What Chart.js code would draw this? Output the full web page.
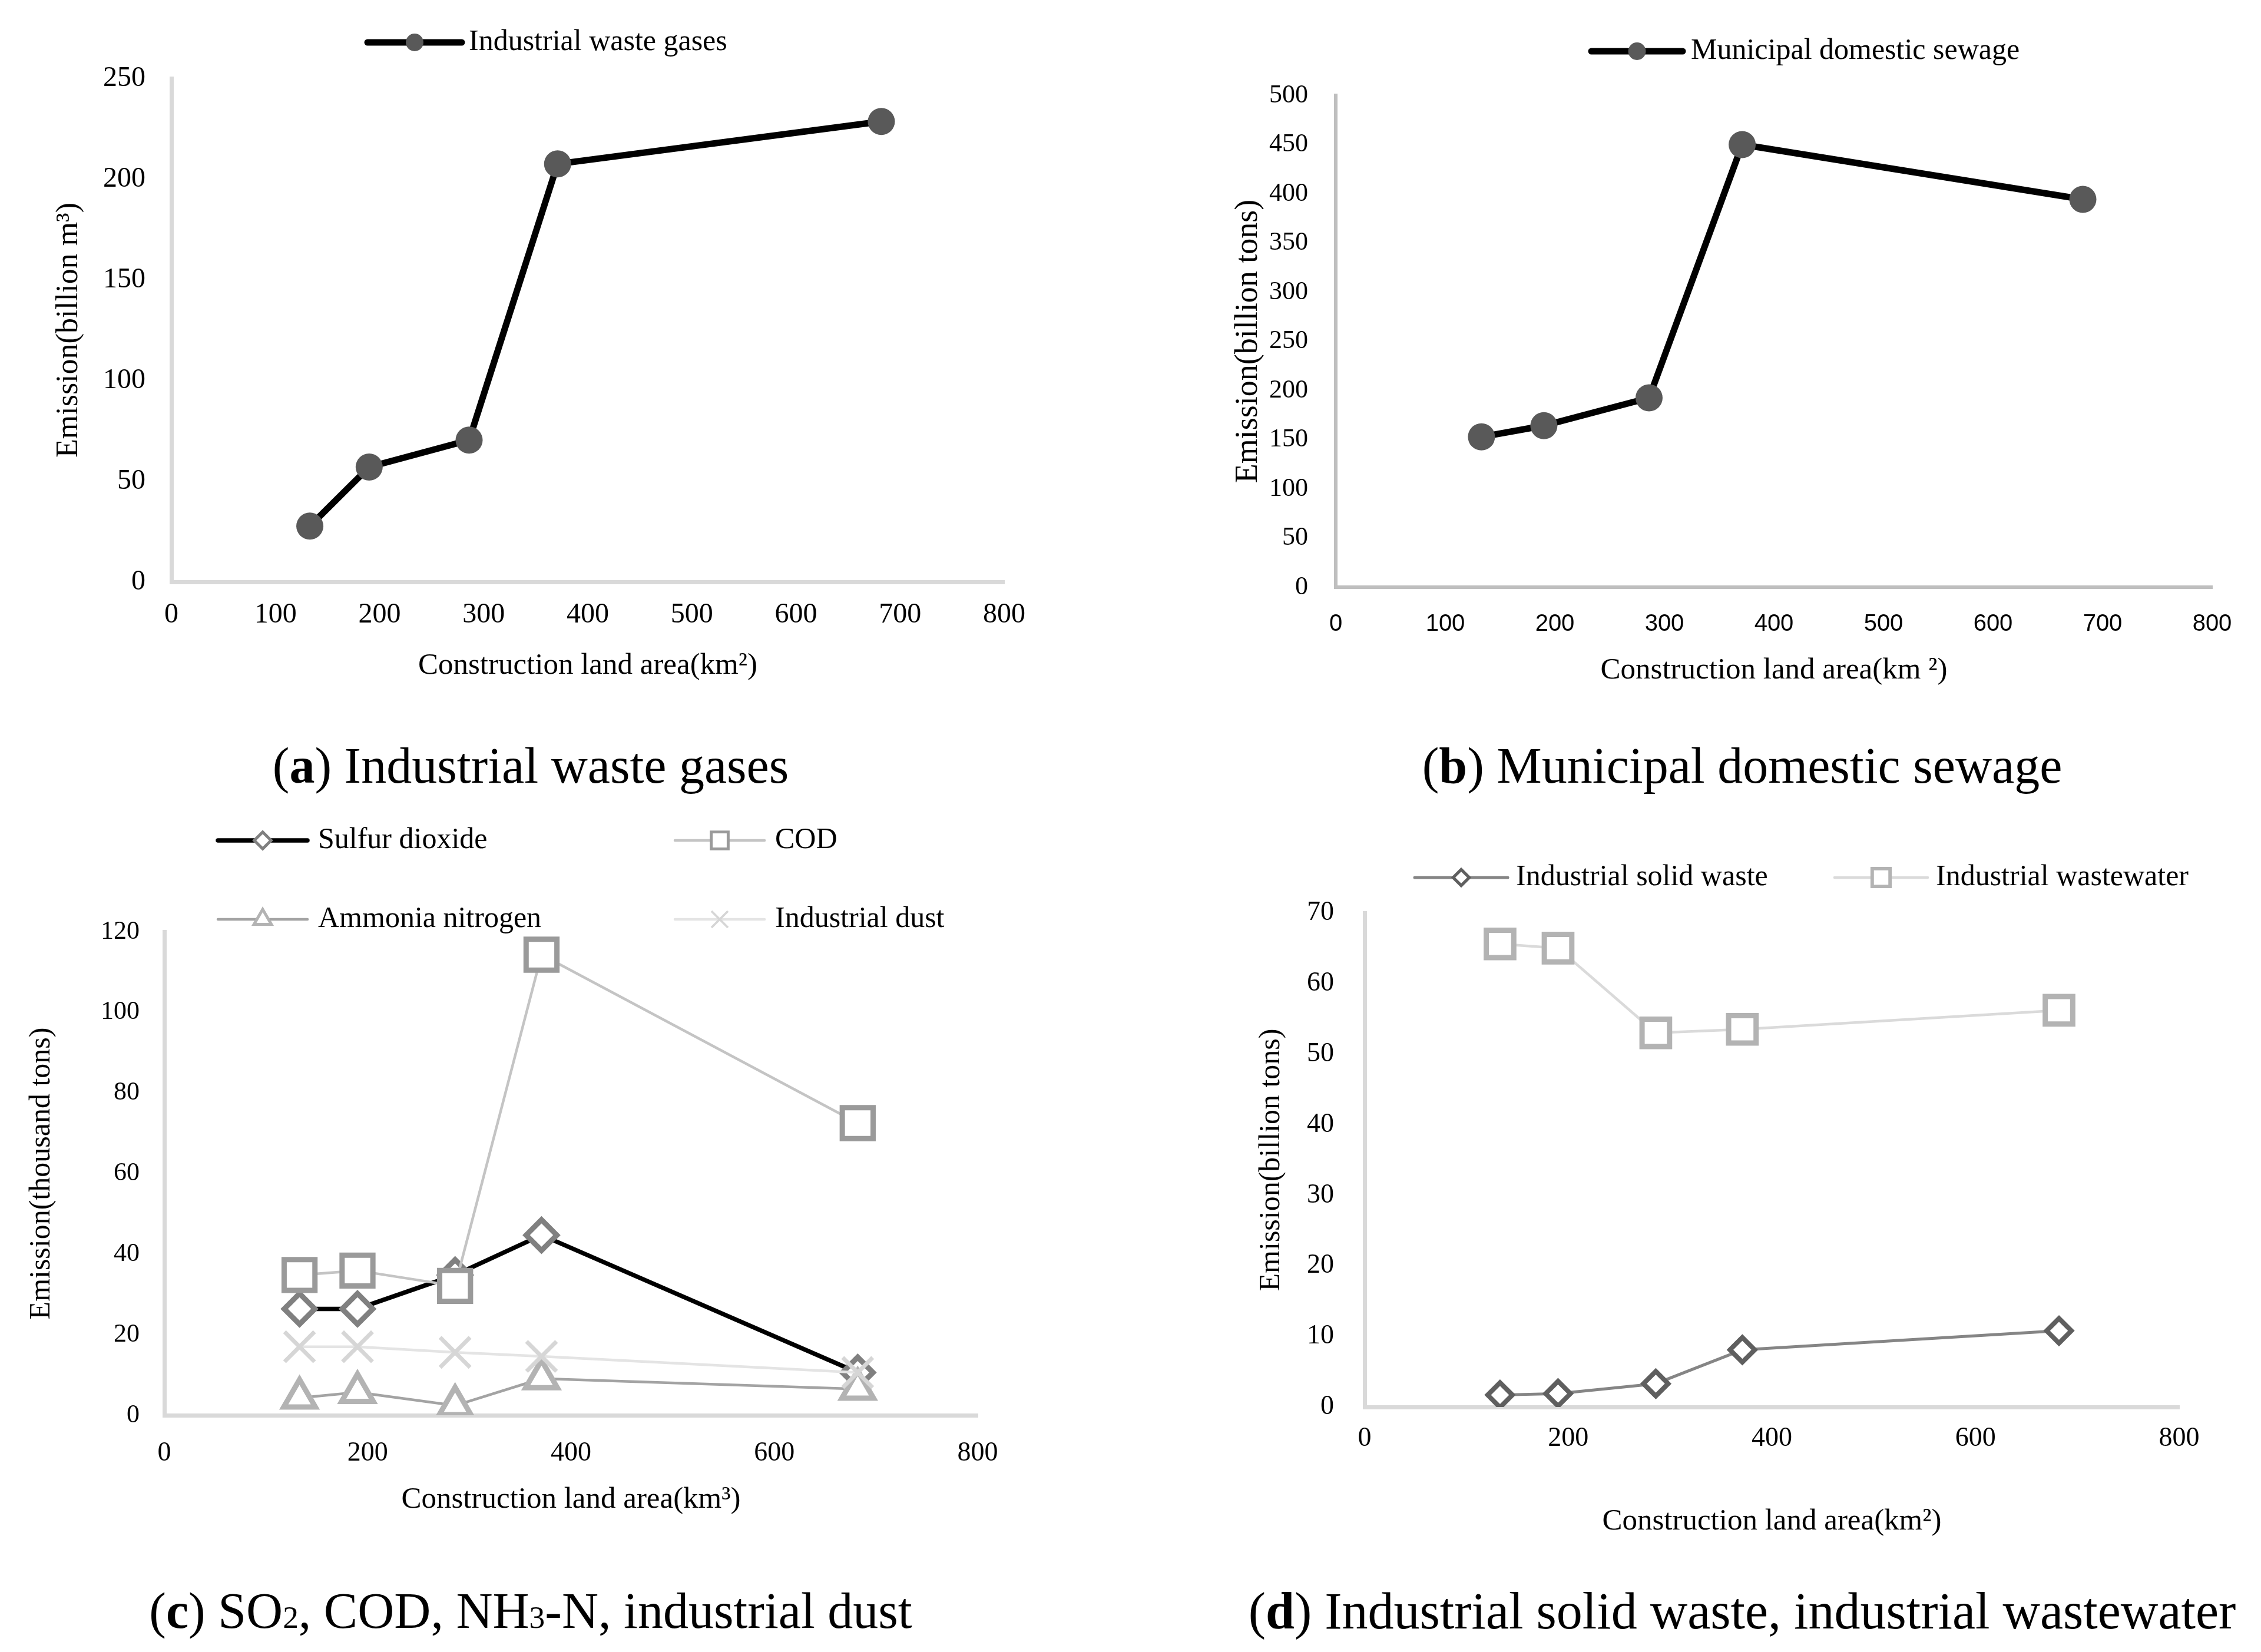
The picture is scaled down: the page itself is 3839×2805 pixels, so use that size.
<!DOCTYPE html>
<html>
<head>
<meta charset="utf-8">
<script src="https://cdn.jsdelivr.net/npm/chart.js@4.4.1/dist/chart.umd.min.js"></script>
<style>
  html, body { margin: 0; padding: 0; background: #fff; }
  body { width: 3839px; height: 2805px; position: relative; overflow: hidden; }
  .panel { position: absolute; }
  .cap {
    position: absolute; transform: translate(-50%, -50%);
    font-family: "Liberation Serif", "Times New Roman", serif; font-size: 86px;
    white-space: nowrap; color: #000;
  }
  .cap .s { font-size: 0.62em; }
</style>
</head>
<body>
<div class="panel" style="left:0px;top:0px;width:1919px;height:1210px"><canvas id="chartA"></canvas></div>
<div class="panel" style="left:1919px;top:0px;width:1920px;height:1210px"><canvas id="chartB"></canvas></div>
<div class="panel" style="left:0px;top:1350px;width:1919px;height:1300px"><canvas id="chartC"></canvas></div>
<div class="panel" style="left:1919px;top:1350px;width:1920px;height:1300px"><canvas id="chartD"></canvas></div>

<div class="cap" style="left:901px;top:1300px">(<b>a</b>) Industrial waste gases</div>
<div class="cap" style="left:2958px;top:1300px">(<b>b</b>) Municipal domestic sewage</div>
<div class="cap" style="left:901px;top:2735px">(<b>c</b>) SO<span class="s">2</span>, COD, NH<span class="s">3</span>-N, industrial dust</div>
<div class="cap" style="left:2958px;top:2735px;font-size:88px">(<b>d</b>) Industrial solid waste, industrial wastewater</div>

<script>
// construction land area (km²), same five cities in every panel
const landArea = [133, 190, 286, 371, 682];

// (a)
const wasteGases = [27.7, 57, 70.4, 207.5, 228.6];
// (b)
const domesticSewage = [152.8, 164.2, 192.5, 450, 394.3];
// (c)
const sulfurDioxide = [26.4, 26.4, 34.8, 44.7, 10.6];
const cod = [34.8, 35.9, 32.1, 114.3, 72.5];
const ammoniaNitrogen = [4.3, 5.7, 2.4, 9.1, 6.5];
const industrialDust = [17, 17, 15.6, 14.6, 10.6];
// (d)
const solidWaste = [1.7, 1.9, 3.3, 8.1, 10.8];
const wastewater = [65.6, 65.0, 53.0, 53.5, 56.2];

// tick labels
const xTicksAB = [0, 100, 200, 300, 400, 500, 600, 700, 800];
const xTicksCD = [0, 200, 400, 600, 800];
const yTicksA = [0, 50, 100, 150, 200, 250];
const yTicksB = [0, 50, 100, 150, 200, 250, 300, 350, 400, 450, 500];
const yTicksC = [0, 20, 40, 60, 80, 100, 120];
const yTicksD = [0, 10, 20, 30, 40, 50, 60, 70];

const SERIF = "'Liberation Serif', 'Times New Roman', serif";
const SANS = "'Liberation Sans', Arial, sans-serif";

// Excel-like legend: short line with the marker in the middle, then the label
const lineLegend = {
  id: 'lineLegend',
  afterDraw(chart, args, opts) {
    const ctx = chart.ctx;
    ctx.save();
    chart.data.datasets.forEach((ds, i) => {
      const spot = opts.spots[i];
      if (!spot) return;
      const x = spot[0], y = spot[1];
      ctx.strokeStyle = ds.borderColor;
      ctx.lineWidth = ds.borderWidth;
      ctx.lineCap = 'round';
      ctx.beginPath();
      ctx.moveTo(x, y);
      ctx.lineTo(x + opts.len, y);
      ctx.stroke();
      ctx.fillStyle = ds.pointBackgroundColor;
      ctx.strokeStyle = ds.pointBorderColor;
      ctx.lineWidth = ds.pointBorderWidth * opts.scale;
      ctx.lineCap = 'butt';
      Chart.helpers.drawPoint(ctx, {
        pointStyle: ds.pointStyle,
        radius: ds.pointRadius * opts.scale,
        borderWidth: ds.pointBorderWidth * opts.scale,
        rotation: 0
      }, x + opts.len / 2, y);
      ctx.fillStyle = '#000';
      ctx.font = '50px ' + SERIF;
      ctx.textAlign = 'left';
      ctx.textBaseline = 'middle';
      ctx.fillText(ds.label, x + opts.len + opts.gap, y);
    });
    ctx.restore();
  }
};

function ds(label, values, s) {
  return Object.assign({
    label: label,
    data: values.map((v, i) => ({ x: landArea[i], y: v })),
    fill: false,
    tension: 0,
    borderJoinStyle: 'round',
    pointHoverRadius: 0
  }, s);
}

function makeChart(id, cfg) {
  const ctx = document.getElementById(id).getContext('2d');
  return new Chart(ctx, {
    type: 'line',
    data: { datasets: cfg.datasets },
    plugins: [lineLegend],
    options: {
      responsive: true,
      maintainAspectRatio: false,
      animation: false,
      events: [],
      layout: { padding: { left: 0, top: cfg.plot.top, right: cfg.plot.right, bottom: 0 } },
      plugins: {
        legend: { display: false },
        tooltip: { enabled: false },
        lineLegend: cfg.legend
      },
      scales: {
        x: {
          type: 'linear',
          min: cfg.xTicks[0], max: cfg.xTicks[cfg.xTicks.length - 1],
          afterBuildTicks: s => { s.ticks = cfg.xTicks.map(v => ({ value: v })); },
          afterFit: s => { s.height = cfg.plot.xh; },
          grid: { display: false, drawTicks: false },
          border: { display: true, color: cfg.axisColor, width: cfg.axisWidth },
          ticks: { color: '#000', padding: cfg.xTickPad, font: cfg.xTickFont, maxRotation: 0, autoSkip: false },
          title: { display: true, text: cfg.xTitle, color: '#000', font: cfg.xTitleFont, padding: { top: 0, bottom: cfg.xTitlePad } }
        },
        y: {
          type: 'linear',
          min: cfg.yTicks[0], max: cfg.yTicks[cfg.yTicks.length - 1],
          afterBuildTicks: s => { s.ticks = cfg.yTicks.map(v => ({ value: v })); },
          afterFit: s => { s.width = cfg.plot.yw; },
          grid: { display: false, drawTicks: false },
          border: { display: true, color: cfg.axisColor, width: cfg.axisWidth },
          ticks: { color: '#000', padding: cfg.yTickPad, font: cfg.yTickFont, autoSkip: false },
          title: { display: true, text: cfg.yTitle, color: '#000', font: cfg.yTitleFont, padding: { top: cfg.yTitlePad, bottom: 0 } }
        }
      }
    }
  });
}

const blackLine = {
  borderColor: '#000', borderWidth: 11,
  pointStyle: 'circle', pointRadius: 23,
  pointBackgroundColor: '#595959', pointBorderColor: '#595959', pointBorderWidth: 0
};

makeChart('chartA', {
  datasets: [ds('Industrial waste gases', wasteGases, blackLine)],
  plot: { top: 133, right: 214, yw: 291, xh: 222 },
  xTicks: xTicksAB, yTicks: yTicksA,
  axisColor: '#d9d9d9', axisWidth: 7,
  xTickPad: 28, yTickPad: 44,
  xTickFont: { family: SERIF, size: 48 }, yTickFont: { family: SERIF, size: 48 },
  xTitle: 'Construction land area(km²)', xTitleFont: { family: SERIF, size: 51 }, xTitlePad: 49,
  yTitle: 'Emission(billion m³)', yTitleFont: { family: SERIF, size: 52 }, yTitlePad: 86,
  legend: { spots: [[624, 72]], len: 160, gap: 12, scale: 0.65 }
});

makeChart('chartB', {
  datasets: [ds('Municipal domestic sewage', domesticSewage, blackLine)],
  plot: { top: 162, right: 1920 - 1837, yw: 349, xh: 1210 - 997 },
  xTicks: xTicksAB, yTicks: yTicksB,
  axisColor: '#bfbfbf', axisWidth: 6,
  xTickPad: 39, yTickPad: 47,
  xTickFont: { family: SANS, size: 40 }, yTickFont: { family: SERIF, size: 44 },
  xTitle: 'Construction land area(km ²)', xTitleFont: { family: SERIF, size: 51 }, xTitlePad: 41,
  yTitle: 'Emission(billion tons)', yTitleFont: { family: SERIF, size: 54 }, yTitlePad: 168,
  legend: { spots: [[783, 87]], len: 155, gap: 14, scale: 0.65 }
});

makeChart('chartC', {
  datasets: [
    ds('Sulfur dioxide', sulfurDioxide, {
      borderColor: '#000', borderWidth: 7.5, order: 4,
      pointStyle: 'rectRot', pointRadius: 26,
      pointBackgroundColor: '#fff', pointBorderColor: '#808080', pointBorderWidth: 9
    }),
    ds('COD', cod, {
      borderColor: '#c4c4c4', borderWidth: 4.5, order: 3,
      pointStyle: 'rect', pointRadius: 37,
      pointBackgroundColor: '#fff', pointBorderColor: '#9a9a9a', pointBorderWidth: 9
    }),
    ds('Ammonia nitrogen', ammoniaNitrogen, {
      borderColor: '#a3a3a3', borderWidth: 4.5, order: 2,
      pointStyle: 'triangle', pointRadius: 31,
      pointBackgroundColor: '#fff', pointBorderColor: '#b3b3b3', pointBorderWidth: 9
    }),
    ds('Industrial dust', industrialDust, {
      borderColor: '#e4e4e4', borderWidth: 4.5, order: 1,
      pointStyle: 'crossRot', pointRadius: 36,
      pointBackgroundColor: '#fff', pointBorderColor: '#d6d6d6', pointBorderWidth: 7
    })
  ],
  plot: { top: 232, right: 1919 - 1660, yw: 279, xh: 1300 - 1053 },
  xTicks: xTicksCD, yTicks: yTicksC,
  axisColor: '#d9d9d9', axisWidth: 7,
  xTickPad: 37, yTickPad: 42,
  xTickFont: { family: SERIF, size: 46 }, yTickFont: { family: SERIF, size: 44 },
  xTitle: 'Construction land area(km³)', xTitleFont: { family: SERIF, size: 51 }, xTitlePad: 73,
  yTitle: 'Emission(thousand tons)', yTitleFont: { family: SERIF, size: 50 }, yTitlePad: 41,
  legend: { spots: [[370, 77], [1146, 77], [370, 211], [1146, 211]], len: 152, gap: 18, scale: 0.55 }
});

makeChart('chartD', {
  datasets: [
    ds('Industrial solid waste', solidWaste, {
      borderColor: '#858585', borderWidth: 5, order: 2,
      pointStyle: 'rectRot', pointRadius: 21,
      pointBackgroundColor: '#fff', pointBorderColor: '#5f5f5f', pointBorderWidth: 8
    }),
    ds('Industrial wastewater', wastewater, {
      borderColor: '#dadada', borderWidth: 4.5, order: 1,
      pointStyle: 'rect', pointRadius: 33,
      pointBackgroundColor: '#fff', pointBorderColor: '#b3b3b3', pointBorderWidth: 9
    })
  ],
  plot: { top: 200, right: 1920 - 1781, yw: 398, xh: 1300 - 1039 },
  xTicks: xTicksCD, yTicks: yTicksD,
  axisColor: '#d9d9d9', axisWidth: 7,
  xTickPad: 26, yTickPad: 52,
  xTickFont: { family: SERIF, size: 46 }, yTickFont: { family: SERIF, size: 46 },
  xTitle: 'Construction land area(km²)', xTitleFont: { family: SERIF, size: 51 }, xTitlePad: 36,
  yTitle: 'Emission(billion tons)', yTitleFont: { family: SERIF, size: 50 }, yTitlePad: 210,
  legend: { spots: [[483, 140], [1196, 140]], len: 158, gap: 14, scale: 0.65 }
});
</script>
</body>
</html>
